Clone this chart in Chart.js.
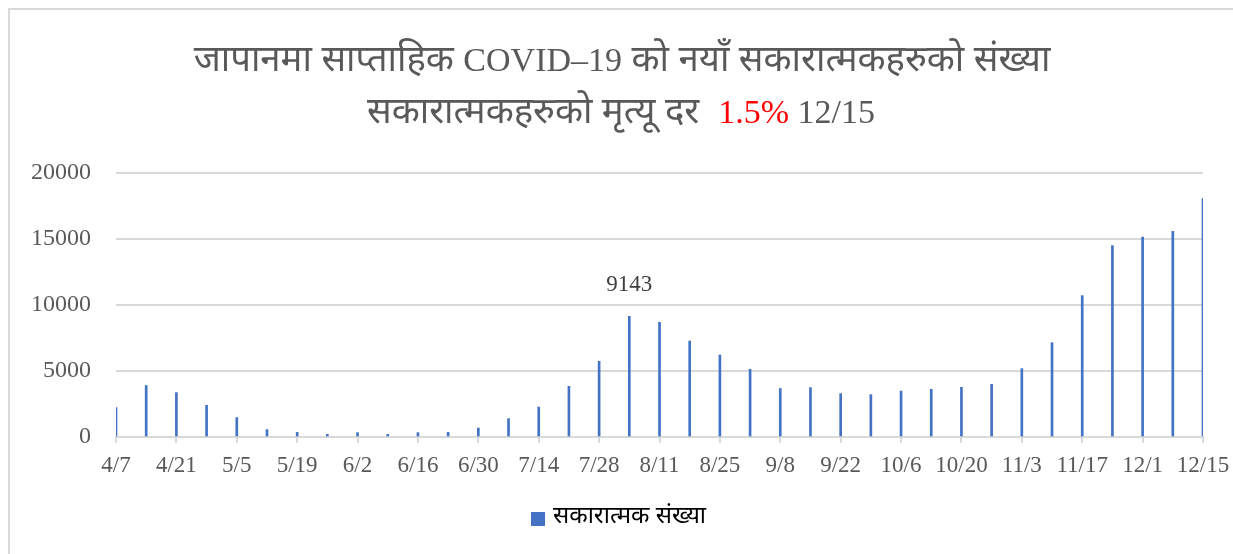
<!DOCTYPE html>
<html>
<head>
<meta charset="utf-8">
<script src="https://cdn.jsdelivr.net/npm/chart.js@4/dist/chart.umd.min.js"></script>
<style>
html,body{margin:0;padding:0;background:#fff;overflow:hidden;}
#wrap{position:absolute;left:0;top:0;width:1233px;height:554px;}
#frame{position:absolute;left:8px;top:8px;width:1240px;height:600px;border:2px solid #d9d9d9;box-sizing:border-box;}
canvas{position:absolute;left:0;top:0;}
</style>
</head>
<body>
<div id="wrap">
<div id="frame"></div>
<canvas id="c" width="1233" height="554"></canvas>
</div>
<script>
const categories = ["4/7","4/14","4/21","4/28","5/5","5/12","5/19","5/26","6/2","6/9","6/16","6/23","6/30","7/7","7/14","7/21","7/28","8/4","8/11","8/18","8/25","9/1","9/8","9/15","9/22","9/29","10/6","10/13","10/20","10/27","11/3","11/10","11/17","11/24","12/1","12/8","12/15"];
const positives = [2230,3900,3360,2400,1470,560,350,200,330,200,330,350,680,1390,2270,3840,5730,9143,8690,7270,6210,5130,3670,3740,3290,3210,3480,3610,3760,3990,5180,7150,10710,14500,15150,15580,18060];
const seriesName = "सकारात्मक संख्या";
// title runs: [text, script, colour]
const titleLine1 = [["जापानमा साप्ताहिक ", "dev", "#595959"], ["COVID–19", "lat", "#595959"], [" को नयाँ सकारात्मकहरुको संख्या", "dev", "#595959"]];
const titleLine2 = [["सकारात्मकहरुको मृत्यू दर  ", "dev", "#595959"], ["1.5%", "lat", "#ff0000"], [" 12/15", "lat", "#595959"]];
const annotatedIndex = 17;
const yTicks = [0,5000,10000,15000,20000];

const serif = "'Liberation Serif', 'DejaVu Serif', 'Noto Sans', serif";
const devFont = "36.5px 'Noto Sans Devanagari', 'Noto Sans', sans-serif";
const latFont = "34px " + serif;

function drawRuns(ctx, runs, cx, cy) {
  let total = 0;
  runs.forEach(r => { ctx.font = r[1] === 'dev' ? devFont : latFont; total += ctx.measureText(r[0]).width; });
  let x = cx - total / 2;
  runs.forEach(r => {
    ctx.font = r[1] === 'dev' ? devFont : latFont;
    ctx.fillStyle = r[2];
    ctx.fillText(r[0], x, cy);
    x += ctx.measureText(r[0]).width;
  });
}

const overlay = {
  id: 'overlay',
  afterDraw(chart) {
    const ctx = chart.ctx;
    ctx.save();
    ctx.textBaseline = 'alphabetic';
    ctx.textAlign = 'left';
    drawRuns(ctx, titleLine1, 622, 71);
    drawRuns(ctx, titleLine2, 621, 123);
    // data label
    const meta = chart.getDatasetMeta(0);
    const el = meta.data[annotatedIndex];
    ctx.textBaseline = 'middle';
    ctx.fillStyle = '#404040';
    ctx.font = "23px " + serif;
    ctx.textAlign = 'center';
    ctx.fillText(String(positives[annotatedIndex]), el.x, el.y - 31);
    // legend
    ctx.fillStyle = '#4472C4';
    ctx.fillRect(531, 512, 14, 14);
    ctx.fillStyle = '#000000';
    ctx.font = "24px 'Noto Sans Devanagari', 'Noto Sans', sans-serif";
    ctx.textAlign = 'left';
    ctx.fillText(seriesName, 553, 519);
    ctx.restore();
  }
};

new Chart(document.getElementById('c'), {
  type: 'bar',
  data: {
    labels: categories,
    datasets: [{
      label: seriesName,
      data: positives,
      backgroundColor: '#4472C4',
      barThickness: 2
    }]
  },
  options: {
    responsive: false,
    animation: false,
    events: [],
    layout: { padding: { left: 0, right: 30, top: 173, bottom: 67 } },
    plugins: { legend: { display: false }, title: { display: false }, tooltip: { enabled: false } },
    scales: {
      x: {
        offset: false,
        grid: {
          offset: false,
          drawOnChartArea: false,
          tickLength: 6,
          lineWidth: 2,
          color: (c) => (c.index % 2 === 0 ? '#d9d9d9' : 'rgba(0,0,0,0)')
        },
        border: { display: true, color: '#d9d9d9', width: 2 },
        ticks: {
          autoSkip: false,
          maxRotation: 0,
          padding: 9,
          color: '#595959',
          font: { family: serif, size: 23 },
          callback: (v, i) => (i % 2 === 0 ? categories[i] : '')
        },
        afterFit: (s) => { s.height = 50; s.paddingLeft = 0; s.paddingRight = 0; }
      },
      y: {
        min: 0,
        max: 20000,
        afterBuildTicks: (s) => { s.ticks = yTicks.map(v => ({ value: v })); },
        grid: { color: '#d9d9d9', lineWidth: 2, drawTicks: false },
        border: { display: false },
        ticks: {
          padding: 25,
          color: '#595959',
          font: { family: serif, size: 24 },
          callback: (v) => String(v)
        },
        afterFit: (s) => { s.width = 116; }
      }
    }
  },
  plugins: [overlay]
});
</script>
</body>
</html>
